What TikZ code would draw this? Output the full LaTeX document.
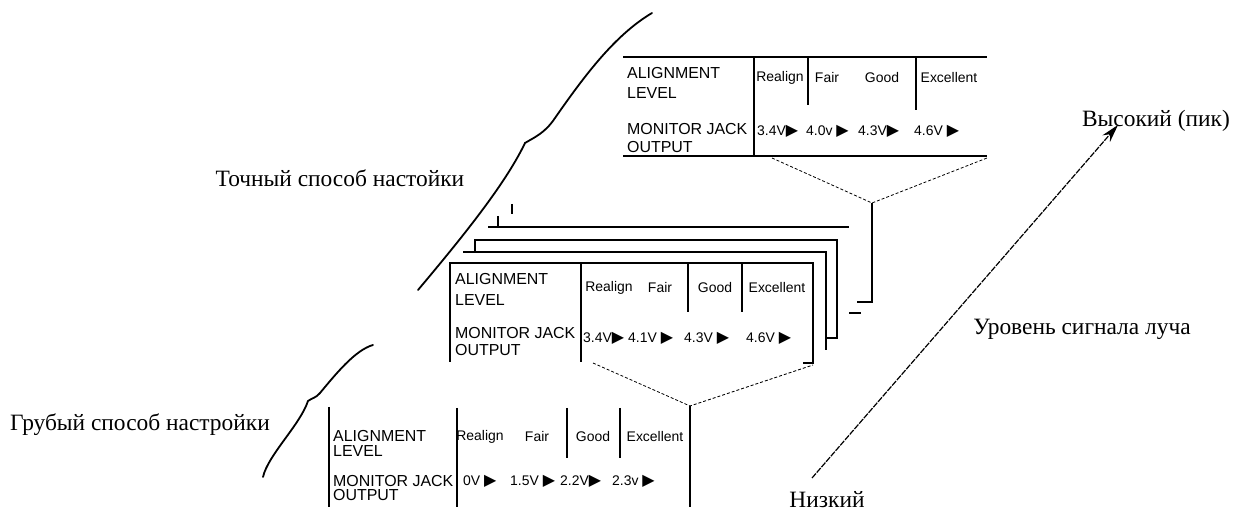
\documentclass[tikz,border=0pt]{standalone}
\usepackage{fontspec}
\setmainfont{Liberation Serif}
\newfontfamily\tabfont{Liberation Sans}
\newfontfamily\symfont{DejaVu Sans}
\usetikzlibrary{arrows.meta}
\newcommand{\playtri}{{\symfont\fontsize{16}{16}\selectfont ▶}}
\begin{document}
\begin{tikzpicture}[x=1bp,y=-1bp,
  tline/.style={line width=1.1bp},
  dline/.style={line width=0.8bp, dash pattern=on 3bp off 2bp},
  bracestroke/.style={line width=1.8bp, line cap=round},
  lbl/.style={font=\tabfont\fontsize{16}{16}\selectfont, anchor=west, inner sep=0},
  hdr/.style={font=\tabfont\fontsize{14}{14}\selectfont, inner sep=0},
  val/.style={font=\tabfont\fontsize{14}{14}\selectfont, anchor=west, inner sep=0},
  rus/.style={font=\fontsize{23.5}{23.5}\selectfont, inner sep=0, anchor=base}]
\useasboundingbox (0,0) rectangle (1242,514);
\fill[white] (0,0) rectangle (1242,514);

% ---------- top table (fine) ----------
\draw[tline] (623,57) -- (987,57);
\draw[tline] (623,156) -- (987,156);
\draw[tline] (754,57) -- (754,156);
\draw[tline] (808,57) -- (808,105);
\draw[tline] (916,57) -- (916,110);
\node[lbl] (t1a) at (627,73) {ALIGNMENT};
\node[lbl] (t1b) at (627,93) {LEVEL};
\node[lbl] (t1c) at (627,129) {MONITOR JACK};
\node[lbl] (t1d) at (627,147) {OUTPUT};
\node[hdr] (t1h1) at (780,78) {Realign};
\node[hdr] (t1h2) at (827,78) {Fair};
\node[hdr] (t1h3) at (882,78) {Good};
\node[hdr] (t1h4) at (949,78) {Excellent};
\node[val] (t1v1) at (757,131) {3.4V\playtri};
\node[val] (t1v2) at (806,131) {4.0v \playtri};
\node[val] (t1v3) at (858,131) {4.3V\playtri};
\node[val] (t1v4) at (914,131) {4.6V \playtri};
\coordinate (A1) at (872,203);
\draw[dline] (772,158) -- (A1) -- (987,158);
\draw[tline] (A1) -- (872,302) -- (857,302);
\draw[tline] (849,313) -- (861,313);

% ---------- stacked sheets ----------
\draw[tline] (512,204) -- (512,214);
\draw[tline] (498,216) -- (498,227);
\draw[tline] (488,227) -- (849,227);
\draw[tline] (475,252) -- (475,240) -- (837,240) -- (837,338) -- (827,338);
\draw[tline] (463,252) -- (826,252) -- (826,350);

% ---------- middle table ----------
\draw[tline] (450,362) -- (450,263) -- (813,263) -- (813,363) -- (803,363);
\draw[tline] (581,263) -- (581,362);
\draw[tline] (688,263) -- (688,312);
\draw[tline] (742,263) -- (742,312);
\node[lbl] (t2a) at (455,279) {ALIGNMENT};
\node[lbl] (t2b) at (455,300) {LEVEL};
\node[lbl] (t2c) at (455,333) {MONITOR JACK};
\node[lbl] (t2d) at (455,350) {OUTPUT};
\node[hdr] (t2h1) at (609,288) {Realign};
\node[hdr] (t2h2) at (660,288) {Fair};
\node[hdr] (t2h3) at (715,288) {Good};
\node[hdr] (t2h4) at (777,288) {Excellent};
\node[val] (t2v1) at (583,338) {3.4V\playtri};
\node[val] (t2v2) at (628,338) {4.1V \playtri};
\node[val] (t2v3) at (684,338) {4.3V \playtri};
\node[val] (t2v4) at (746,338) {4.6V \playtri};
\coordinate (A2) at (690,406);
\draw[dline] (593,363) -- (A2) -- (813,365);

% ---------- bottom table (coarse) ----------
\draw[tline] (329,407) -- (329,507);
\draw[tline] (457,408) -- (457,507);
\draw[tline] (567,408) -- (567,458);
\draw[tline] (620,408) -- (620,458);
\draw[tline] (A2) -- (690,507);
\node[lbl] (t3a) at (333,436) {ALIGNMENT};
\node[lbl] (t3b) at (333,451) {LEVEL};
\node[lbl] (t3c) at (333,481) {MONITOR JACK};
\node[lbl] (t3d) at (333,495) {OUTPUT};
\node[hdr] (t3h1) at (480,437) {Realign};
\node[hdr] (t3h2) at (537,437) {Fair};
\node[hdr] (t3h3) at (593,437) {Good};
\node[hdr] (t3h4) at (655,437) {Excellent};
\node[val] (t3v1) at (463,481) {0V \playtri};
\node[val] (t3v2) at (510,481) {1.5V \playtri};
\node[val] (t3v3) at (560,481) {2.2V\playtri};
\node[val] (t3v4) at (612,481) {2.3v \playtri};

% ---------- braces ----------
\draw[bracestroke] (652,13) .. controls (615,35) and (585,75) .. (555,118)
  .. controls (545,133) and (535,137) .. (525,143)
  .. controls (505,185) and (460,240) .. (418,290);
\draw[bracestroke] (373,345) .. controls (355,350) and (335,375) .. (320,393)
  .. controls (316,398) and (312,398) .. (308,401)
  .. controls (300,425) and (268,455) .. (263,477);

% ---------- labels ----------
\node[rus] (fine) at (340,187) {Точный способ настойки};
\node[rus] (coarse) at (140,430) {Грубый способ настройки};
\node[rus] (hi) at (1156,127) {Высокий (пик)};
\node[rus] (mid) at (1082,335) {Уровень сигнала луча};
\node[rus] (lo) at (827,507) {Низкий};

% ---------- signal level arrow ----------
\coordinate (low) at (812,478);
\coordinate (high) at (1118,125);
\draw[line width=1.2bp, dash pattern=on 6bp off 1.2bp,
  -{Stealth[length=18bp,width=10bp]}] (low) -- (high);
\end{tikzpicture}
\end{document}
